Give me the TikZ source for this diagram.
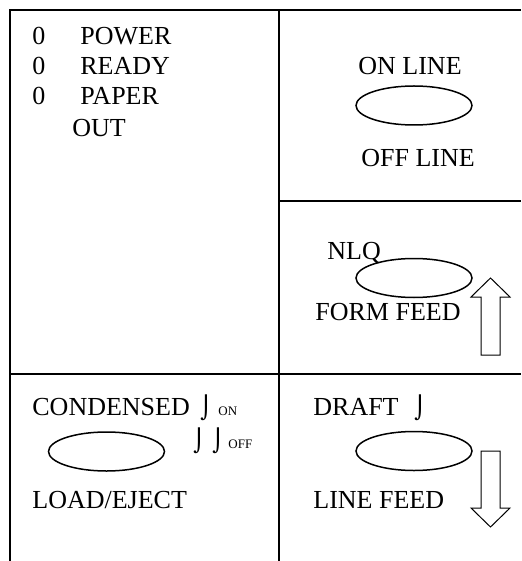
\documentclass[tikz,border=0pt]{standalone}
\usepackage{fontspec}
\setmainfont{Liberation Serif}
\newfontfamily\hookfont{DejaVu Sans}
\usetikzlibrary{shapes.geometric}
\tikzset{
  panelline/.style={line width=1pt, draw=black},
  keyoval/.style={draw, ellipse, line width=0.75pt, minimum width=58pt,
    minimum height=19.5pt, inner sep=0pt},
  keytext/.style={anchor=base west, inner sep=0pt, font=\fontsize{13}{15}\selectfont},
  tinytext/.style={anchor=base west, inner sep=0pt, font=\fontsize{6.5}{7}\selectfont},
  hooktext/.style={anchor=base west, inner sep=0pt, font=\hookfont\fontsize{11}{11}\selectfont},
  blockarrow/.style={draw, line width=0.5pt, fill=white},
}
\begin{document}
\begin{tikzpicture}[x=0.5pt, y=-0.5pt]
  \useasboundingbox (0,0) rectangle (521,561);
  % panel grid
  \coordinate (topleft) at (10,10);
  \coordinate (topmid) at (279,10);
  \coordinate (topright) at (521,10);
  \coordinate (midright) at (521,201);
  \coordinate (midcut) at (279,201);
  \coordinate (lowleft) at (10,374);
  \coordinate (lowright) at (521,374);
  \coordinate (botleft) at (10,561);
  \coordinate (botmid) at (279,561);
  \draw[panelline] (botleft) -- (topleft) -- (topright);
  \draw[panelline] (topmid) -- (botmid);
  \draw[panelline] (midcut) -- (midright);
  \draw[panelline] (lowleft) -- (lowright);

  % status lamps
  \foreach \lamp/\y in {power/45, ready/75, paper/105} {
    \node[keytext] (\lamp0) at (32,\y) {0};
  }
  \node[keytext] (powerlbl) at (80,45) {POWER};
  \node[keytext] (readylbl) at (80,75) {READY};
  \node[keytext] (paperlbl) at (80,105) {PAPER};
  \node[keytext] (outlbl) at (72,137) {OUT};

  % on line key
  \node[keyoval] (onlinekey) at (414,105.5) {};
  \node[keytext] (onlinelbl) at (358,75) {ON LINE};
  \node[keytext] (offlinelbl) at (361,167) {OFF LINE};

  % nlq key
  \node[keytext] (nlqlbl) at (327,259) {NLQ};
  \node[keyoval] (nlqkey) at (414,278) {};
  \node[keytext] (formfeedlbl) at (315,320) {FORM FEED};
  \draw[blockarrow] (481,355) -- (481,297) -- (471,297) -- (490.5,278)
    -- (510,297) -- (500,297) -- (500,355) -- cycle;

  % condensed key
  \node[keytext] (condlbl) at (32,415) {CONDENSED};
  \node[hooktext] (condhook) at (200,415) {⌡};
  \node[tinytext] (onlbl) at (218,415) {ON};
  \node[hooktext] (offhooka) at (193,448) {⌡};
  \node[hooktext] (offhookb) at (212,448) {⌡};
  \node[tinytext] (offlbl) at (228,448) {OFF};
  \node[keyoval] (condkey) at (106.5,451.5) {};
  \node[keytext] (loadlbl) at (32,508) {LOAD/EJECT};

  % draft key
  \node[keytext] (draftlbl) at (313,415) {DRAFT};
  \node[hooktext] (drafthook) at (414,415) {⌡};
  \node[keyoval] (draftkey) at (414,451) {};
  \node[keytext] (linefeedlbl) at (313,508) {LINE FEED};
  \draw[blockarrow] (481,451) -- (500,451) -- (500,508) -- (510,508)
    -- (490.5,527) -- (471,508) -- (481,508) -- cycle;
\end{tikzpicture}
\end{document}
